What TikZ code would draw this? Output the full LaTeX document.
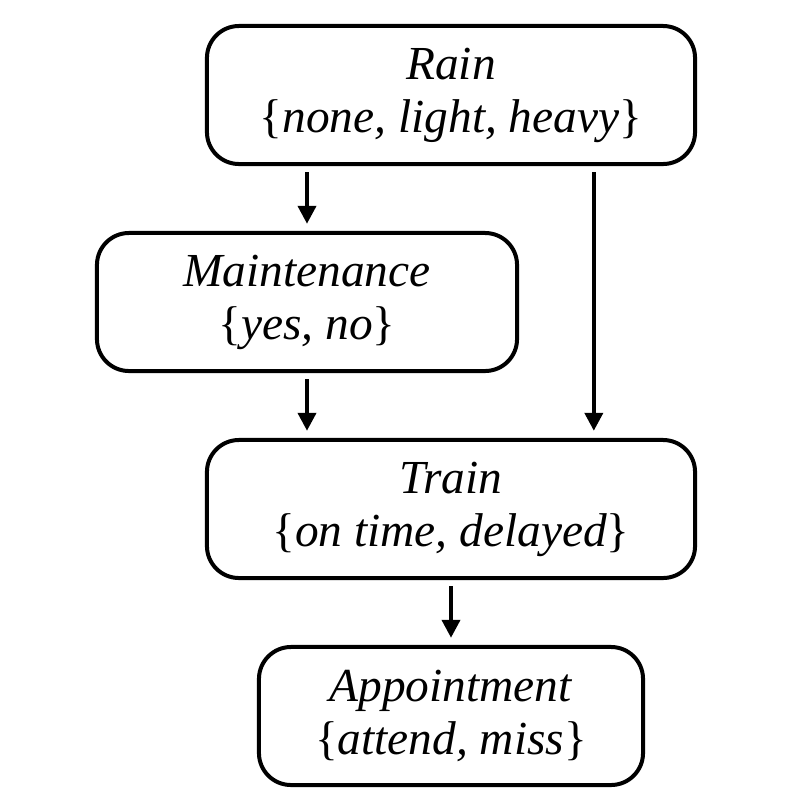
\documentclass[tikz,border=0pt]{standalone}
\usepackage{fontspec}
\setmainfont{Liberation Serif}
\usetikzlibrary{positioning,calc,arrows.meta}

\begin{document}
\begin{tikzpicture}[x=0.025cm,y=-0.025cm,
    var/.style={draw,line width=0.1cm,rounded corners=0.8cm,align=center,inner sep=0pt,
        minimum height=3.45cm,font=\fontsize{33.7}{37.6}\selectfont},
    link/.style={line width=0.1cm,shorten <=0.16cm,shorten >=0.18cm,
        -{Triangle[length=0.45cm,width=0.45cm]}}]
    \useasboundingbox (0,0) rectangle (807,812);

    % Variables
    \node[var,minimum width=12.2cm] (rain) at (451,95) {\textit{Rain}\\\{\textit{none, light, heavy}\}};
    \node[var,minimum width=10.5cm] (maint) at (307,302) {\textit{Maintenance}\\\{\textit{yes, no}\}};
    \node[var,minimum width=12.2cm] (train) at (451,509) {\textit{Train}\\\{\textit{on time, delayed}\}};
    \node[var,minimum width=9.6cm] (appt) at (451,716) {\textit{Appointment}\\\{\textit{attend, miss}\}};

    % Dependencies
    \draw[link] (rain.south -| maint.north) -- (maint.north);
    \draw[link] (maint.south) -- (maint.south |- train.north);
    \draw[link] ([xshift=3.57cm]rain.south) -- ([xshift=3.57cm]train.north);
    \draw[link] (train.south) -- (appt.north);
\end{tikzpicture}
\end{document}
